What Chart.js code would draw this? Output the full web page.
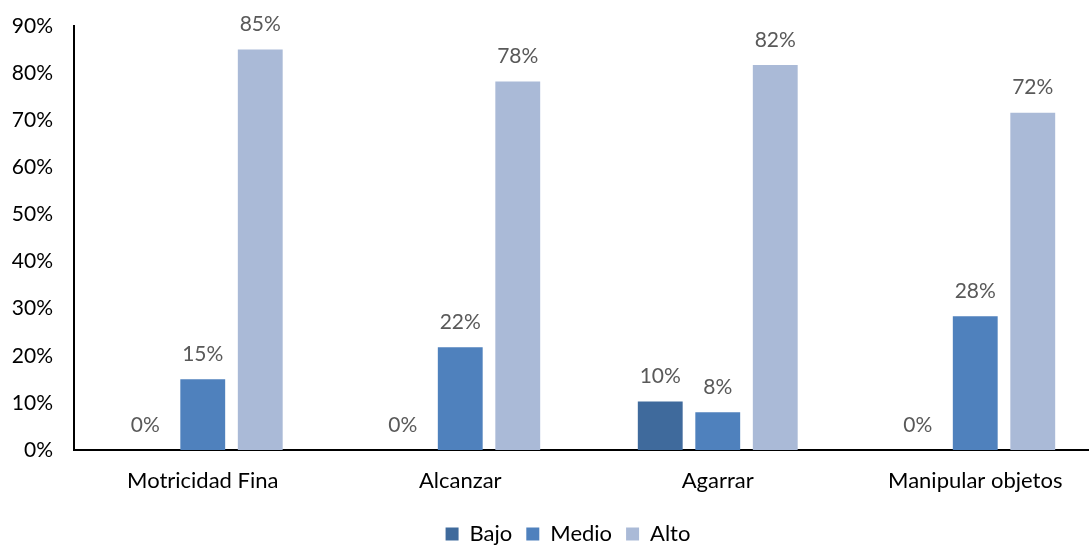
<!DOCTYPE html>
<html>
<head>
<meta charset="utf-8">
<script src="https://cdn.jsdelivr.net/npm/chart.js@4.4.0/dist/chart.umd.min.js"></script>
<style>
    html, body { margin: 0; padding: 0; background: #fff; overflow: hidden; }
    #wrap { width: 1135px; height: 555px; position: relative; }
</style>
</head>
<body>
<div id="wrap"><canvas id="chart"></canvas></div>
<script>
// Categories and series (percent values)
const categories = ['Motricidad Fina', 'Alcanzar', 'Agarrar', 'Manipular objetos'];
const bajo = [0, 0, 10.3, 0];
const medio = [15, 21.8, 8, 28.4];
const alto = [85, 78.2, 81.7, 71.6];

const FONT = 'Lato, "Open Sans", sans-serif';

// Draws value labels above each bar
const valueLabels = {
    id: 'valueLabels',
    afterDatasetsDraw(chart) {
        const ctx = chart.ctx;
        ctx.save();
        ctx.font = '21px ' + FONT;
        ctx.fillStyle = '#595959';
        ctx.textAlign = 'center';
        ctx.textBaseline = 'middle';
        chart.data.datasets.forEach((ds, i) => {
            chart.getDatasetMeta(i).data.forEach((bar, j) => {
                ctx.fillText(Math.round(ds.data[j]) + '%', bar.x, bar.y - 25);
            });
        });
        ctx.restore();
    }
};

// Nudge the legend right so it sits where the original one does
const legendShift = {
    id: 'legendShift',
    afterLayout(chart) {
        if (chart.legend) {
            chart.legend.left += 16;
            chart.legend.right += 16;
        }
    }
};

new Chart(document.getElementById('chart').getContext('2d'), {
    type: 'bar',
    data: {
        labels: categories,
        datasets: [
            { label: 'Bajo', data: bajo, backgroundColor: '#3F6A9C' },
            { label: 'Medio', data: medio, backgroundColor: '#4F81BD' },
            { label: 'Alto', data: alto, backgroundColor: '#AABAD7' }
        ]
    },
    options: {
        responsive: true,
        maintainAspectRatio: false,
        animation: false,
        categoryPercentage: 0.67,
        barPercentage: 0.78,
        layout: { autoPadding: false, padding: { top: 26, right: 31, bottom: 0, left: 0 } },
        plugins: {
            tooltip: { enabled: false },
            legend: {
                position: 'bottom',
                labels: {
                    font: { family: FONT, size: 22 },
                    color: '#000',
                    boxWidth: 13,
                    boxHeight: 13,
                    padding: 14
                }
            }
        },
        scales: {
            x: {
                grid: { display: false, drawTicks: false },
                border: { display: true, color: '#000', width: 2 },
                ticks: {
                    font: { family: FONT, size: 22 },
                    color: '#000',
                    padding: 18,
                    maxRotation: 0
                },
                afterFit: (scale) => { scale.height = 59; }
            },
            y: {
                min: 0,
                max: 90,
                grid: { display: false, drawTicks: false },
                border: { display: true, color: '#000', width: 2 },
                ticks: {
                    stepSize: 10,
                    font: { family: FONT, size: 21 },
                    color: '#000',
                    padding: 21,
                    callback: (v) => v + '%'
                },
                afterFit: (scale) => {
                    scale.width = 74;
                    scale.paddingTop = 0;
                    scale.paddingBottom = 0;
                }
            }
        }
    },
    plugins: [valueLabels, legendShift]
});
</script>
</body>
</html>
